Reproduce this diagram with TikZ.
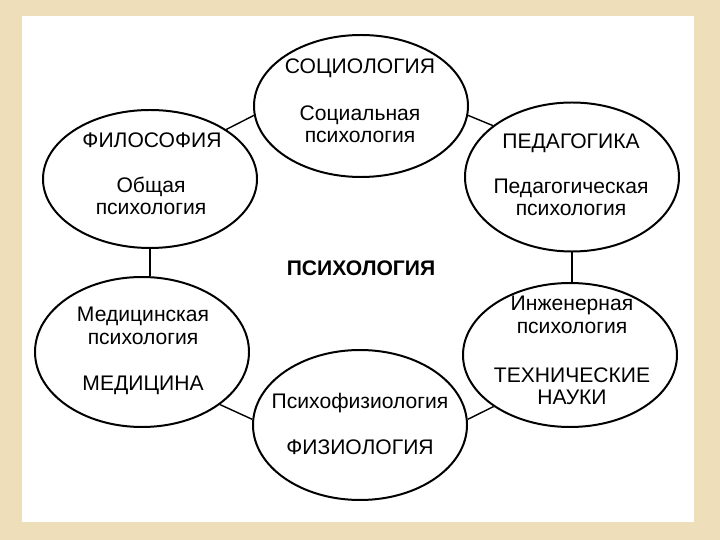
\documentclass[tikz,border=0pt]{standalone}
\usepackage{fontspec}
\setmainfont{Liberation Sans}
\usetikzlibrary{shapes.geometric, backgrounds}
\definecolor{CPaper}{RGB}{238,222,186}

\tikzset{
  field/.style={draw, ellipse, line width=1.7pt, minimum width=6.42cm, minimum height=#1, inner sep=0pt},
  field/.default=4.3cm,
  link/.style={line width=1.2pt},
  txt/.style={font=\fontsize{18}{21}\selectfont, inner sep=0pt}
}

\begin{document}
\begin{tikzpicture}[x=0.03cm, y=-0.03cm]
    \fill[CPaper] (0,0) rectangle (720,540);
    \fill[white] (22,16) rectangle (694,522);

    % Fields
    \node[field=4.26cm] (soc) at (361,106) {};
    \node[field=4.14cm] (phil) at (150,179) {};
    \node[field=4.47cm] (ped) at (572,177) {};
    \node[field=4.5cm] (med) at (142,352) {};
    \node[field=4.32cm] (tech) at (570,355) {};
    \node[field=4.5cm] (phys) at (360,425) {};

    % Links
    \draw[link] (soc.185) -- (phil.33);
    \draw[link] (soc.355) -- (ped.147);
    \draw[link] (phil.south) -- (phil.south |- med.north);
    \draw[link] (ped.south) -- (ped.south |- tech.north);
    \draw[link] (med.326) -- (phys.177);
    \draw[link] (tech.214) -- (phys.3);

    % Texts
    \node[txt] (socA) at (360,68) {СОЦИОЛОГИЯ};
    \node[txt] (socB) at (360,115) {Социальная};
    \node[txt] (socC) at (360,137) {психология};

    \node[txt] (philA) at (152,140) {ФИЛОСОФИЯ};
    \node[txt] (philB) at (151,187) {Общая};
    \node[txt] (philC) at (151,209) {психология};

    \node[txt] (pedA) at (571,143) {ПЕДАГОГИКА};
    \node[txt] (pedB) at (571,188) {Педагогическая};
    \node[txt] (pedC) at (571,210) {психология};

    \node[txt] (medA) at (143,316) {Медицинская};
    \node[txt] (medB) at (143,339) {психология};
    \node[txt] (medC) at (143,385) {МЕДИЦИНА};

    \node[txt] (techA) at (572,305) {Инженерная};
    \node[txt] (techB) at (572,328) {психология};
    \node[txt] (techC) at (572,375) {ТЕХНИЧЕСКИЕ};
    \node[txt] (techD) at (572,397) {НАУКИ};

    \node[txt] (physA) at (360,403) {Психофизиология};
    \node[txt] (physB) at (360,447) {ФИЗИОЛОГИЯ};

    \node[txt, font=\fontsize{18}{21}\selectfont\bfseries] (psy) at (361,268) {ПСИХОЛОГИЯ};
\end{tikzpicture}
\end{document}
